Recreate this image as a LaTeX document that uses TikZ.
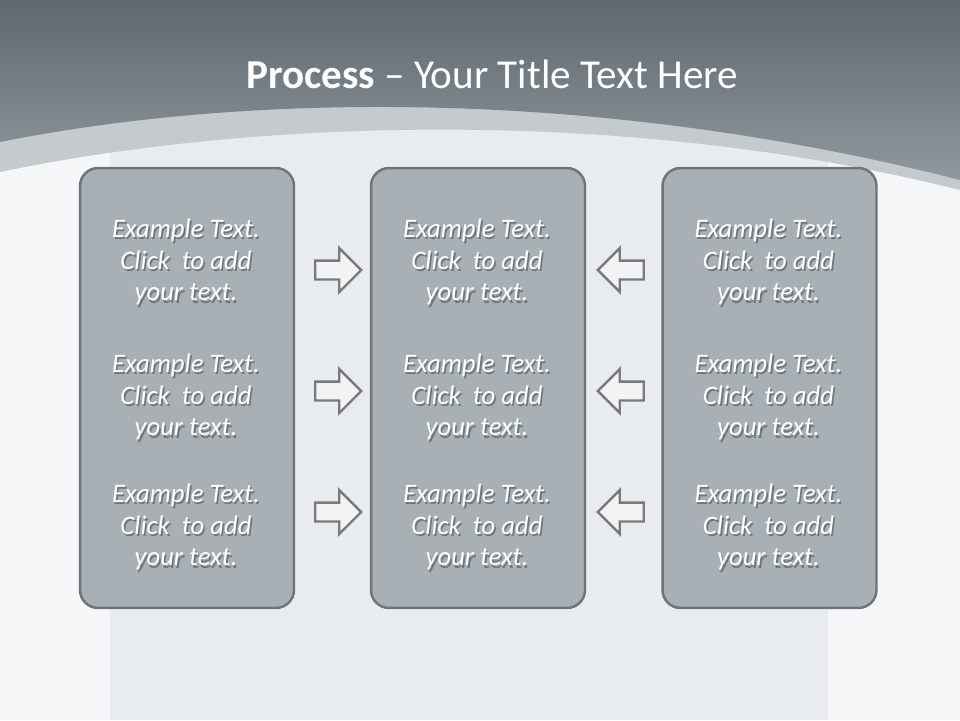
\documentclass[tikz,border=0pt]{standalone}
\usepackage{fontspec}
\setmainfont{Carlito}
\usepackage{xcolor}
\usetikzlibrary{shapes.arrows}

\definecolor{pagebg}{HTML}{F5F6F8}
\definecolor{paleback}{HTML}{E9ECEF}
\definecolor{bandgray}{HTML}{C5CACD}
\definecolor{hdtop}{HTML}{5F676F}
\definecolor{hdbottom}{HTML}{8E989E}
\definecolor{panelfill}{HTML}{A8B0B6}
\definecolor{panelline}{HTML}{6E7478}
\definecolor{arrowline}{HTML}{7A7A7A}
\definecolor{arrowfill}{HTML}{F1F3F5}
\definecolor{shadowgray}{HTML}{4F565C}

\newcommand{\cardtext}[3]{%
  \node[shadowtxt] at (#2+1.6,#3+2.2) {Example Text.\\Click~ to add\\your text.};
  \node[exampletxt] (#1) at (#2,#3) {Example Text.\\Click~ to add\\your text.};}

\begin{document}
\begin{tikzpicture}[x=.02cm,y=-.02cm,
  panel/.style={draw=panelline,line width=1.4pt,fill=panelfill,rounded corners=.36cm,
    minimum width=4.28cm,minimum height=8.8cm},
  exampletxt/.style={text=white,font=\fontsize{15.2}{18.1}\selectfont\itshape,align=center},
  shadowtxt/.style={exampletxt,text=shadowgray,opacity=.65},
  blockarrow/.style={single arrow,draw=arrowline,fill=arrowfill,line width=1.4pt,
    minimum height=.92cm,single arrow head extend=.25cm,inner xsep=0pt,inner ysep=.165cm},
  toright/.style={blockarrow},
  toleft/.style={blockarrow,shape border rotate=180}]
\useasboundingbox (0,0) rectangle (960,720);
% background and header
\fill[pagebg] (0,0) rectangle (960,720);
\fill[paleback] (110,100) rectangle (828,720);
\fill[bandgray] (0,0) -- (0,172) .. controls (250,120) and (620,105) .. (960,190) -- (960,0) -- cycle;
\shade[top color=hdtop,bottom color=hdbottom] (0,0) -- (0,142) .. controls (250,92) and (600,88) .. (960,180) -- (960,0) -- cycle;
\node[text=white,font=\fontsize{23.4}{28}\selectfont] (title) at (492,74) {\textbf{Process} – Your Title Text Here};
% panels
\node[panel] (left) at (187,388) {};
\node[panel] (mid) at (478,388) {};
\node[panel] (right) at (769.5,388) {};
% texts
\cardtext{lefta}{186}{262}
\cardtext{leftb}{186}{397}
\cardtext{leftc}{186}{527}
\cardtext{mida}{477}{262}
\cardtext{midb}{477}{397}
\cardtext{midc}{477}{527}
\cardtext{righta}{768.5}{262}
\cardtext{rightb}{768.5}{397}
\cardtext{rightc}{768.5}{527}
% arrows
\node[toright] (ra) at (333.5,270) {};
\node[toright] (rb) at (333.5,391) {};
\node[toright] (rc) at (333.5,512) {};
\node[toleft] (la) at (625.5,270) {};
\node[toleft] (lb) at (625.5,391) {};
\node[toleft] (lc) at (625.5,512) {};
\end{tikzpicture}
\end{document}
